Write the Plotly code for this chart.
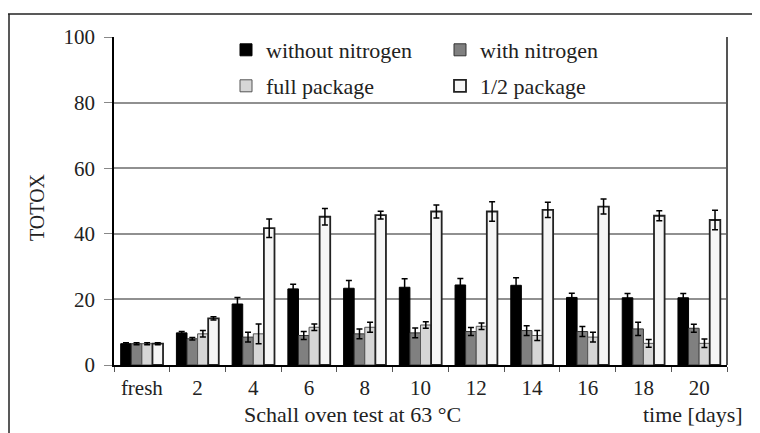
import plotly.graph_objects as go

categories = ["fresh", "2", "4", "6", "8", "10", "12", "14", "16", "18", "20"]
without_n = [6.5, 9.8, 18.6, 23.2, 23.4, 23.7, 24.4, 24.3, 20.6, 20.5, 20.5]
without_n_err = [0.3, 0.4, 2.0, 1.4, 2.4, 2.6, 2.0, 2.3, 1.3, 1.3, 1.3]
with_n = [6.5, 8.0, 8.5, 9.0, 9.5, 9.8, 10.2, 10.5, 10.2, 11.0, 11.2]
with_n_err = [0.3, 0.4, 1.5, 1.2, 1.5, 1.5, 1.2, 1.5, 1.5, 2.0, 1.2]
full_pkg = [6.5, 9.5, 9.5, 11.5, 11.5, 12.2, 11.8, 9.0, 8.5, 6.6, 6.6]
full_pkg_err = [0.3, 1.0, 3.0, 1.0, 1.5, 1.0, 1.0, 1.5, 1.5, 1.2, 1.3]
half_pkg = [6.5, 14.2, 41.7, 45.2, 45.7, 46.8, 46.8, 47.3, 48.3, 45.5, 44.2]
half_pkg_err = [0.3, 0.5, 2.8, 2.5, 1.2, 2.0, 3.0, 2.3, 2.3, 1.5, 3.0]

series = [
    ("without nitrogen", without_n, without_n_err, "#000000", "#000000", 1, "legend"),
    ("with nitrogen", with_n, with_n_err, "#808080", "#333333", 1, "legend"),
    ("full package", full_pkg, full_pkg_err, "#d6d6d6", "#555555", 1, "legend2"),
    ("1/2 package", half_pkg, half_pkg_err, "#f6f6f6", "#222222", 1.8, "legend2"),
]

FONT = "Liberation Serif, Times New Roman, serif"
TXT = "#222222"

fig = go.Figure()
for name, vals, errs, fill, line, lw, lg in series:
    fig.add_trace(go.Bar(
        x=categories, y=vals, name=name, legend=lg,
        marker=dict(color=fill, line=dict(color=line, width=lw)),
        error_y=dict(type="data", array=errs, visible=True, color="#000000",
                     thickness=1.5, width=3),
    ))

# page is offset by the 8px body margin
OFF = 8
W, H = 760 - OFF, 433 - OFF
L = 114 - OFF
T = 37 - OFF
R = W - (727 - OFF)
B = H - (365 - OFF)
pw, ph = W - L - R, H - T - B


def px_x(px):
    return (px - OFF - L) / pw


def px_y(py):
    return (H - B - (py - OFF)) / ph


leg_common = dict(
    orientation="h", xanchor="left", yanchor="middle",
    entrywidth=169, entrywidthmode="pixels",
    font=dict(family=FONT, size=22, color=TXT),
    bgcolor="rgba(0,0,0,0)", itemwidth=30, traceorder="normal",
)

fig.update_layout(
    width=W, height=H,
    margin=dict(l=L, r=R, t=T, b=B),
    paper_bgcolor="white", plot_bgcolor="white",
    barmode="group", bargap=0.24, bargroupgap=0,
    font=dict(family=FONT, size=21, color=TXT),
    showlegend=True,
    legend=dict(x=px_x(226), y=px_y(50), **leg_common),
    legend2=dict(x=px_x(226), y=px_y(86), **leg_common),
    xaxis=dict(
        type="category", showline=True, linecolor="#000000", linewidth=1.5,
        ticks="outside", tickson="boundaries", ticklen=5, tickcolor="#555555",
        ticklabelstandoff=3,
        showgrid=False, tickfont=dict(family=FONT, size=21, color=TXT),
    ),
    yaxis=dict(
        range=[0, 100], tickvals=[0, 20, 40, 60, 80, 100],
        showline=True, linecolor="#000000", linewidth=1.5,
        ticks="outside", ticklen=8, tickcolor="#888888",
        ticklabelstandoff=5,
        showgrid=True, gridcolor="#909090", gridwidth=1.5,
        zeroline=False,
        tickfont=dict(family=FONT, size=21, color=TXT),
    ),
    annotations=[
        dict(text="TOTOX", xref="paper", yref="paper", textangle=-90,
             x=px_x(37), y=px_y(207), xanchor="center", yanchor="middle",
             showarrow=False, font=dict(family=FONT, size=20, color=TXT)),
        dict(text="Schall oven test at 63 °C", xref="paper", yref="paper",
             x=px_x(352), y=px_y(414), xanchor="center", yanchor="middle",
             showarrow=False, font=dict(family=FONT, size=22, color=TXT)),
        dict(text="time [days]", xref="paper", yref="paper",
             x=px_x(745), y=px_y(414), xanchor="right", yanchor="middle",
             showarrow=False, font=dict(family=FONT, size=22, color=TXT)),
    ],
    shapes=[
        dict(type="line", xref="paper", yref="paper", x0=1, x1=1, y0=0, y1=1,
             line=dict(color="#555555", width=2)),
        dict(type="line", xref="paper", yref="paper", x0=px_x(8), x1=px_x(760),
             y0=px_y(14), y1=px_y(14), line=dict(color="#222222", width=1.5)),
        dict(type="line", xref="paper", yref="paper", x0=px_x(9), x1=px_x(9),
             y0=px_y(14), y1=px_y(433), line=dict(color="#222222", width=1.5)),
    ],
)

fig.write_html("out.html")
